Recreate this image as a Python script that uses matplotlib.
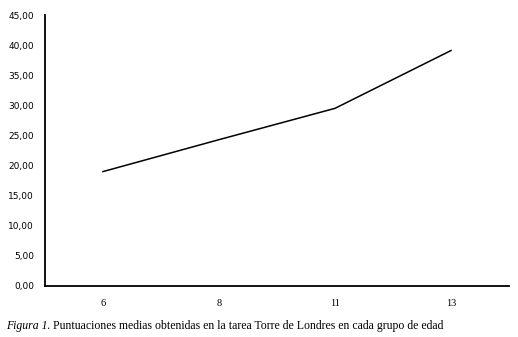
import matplotlib
matplotlib.use('Agg')
import matplotlib.pyplot as plt
import numpy as np

# --- Data ---
edades = ['6', '8', '11', '13']
puntuaciones = [19.0, 24.3, 29.5, 39.1]
y_ticks = [0, 5, 10, 15, 20, 25, 30, 35, 40, 45]
caption_italic = 'Figura 1.'
caption_rest = ' Puntuaciones medias obtenidas en la tarea Torre de Londres en cada grupo de edad'

fig = plt.figure(figsize=(5.18, 3.37), dpi=100)
ax = fig.add_axes([45 / 518, 1 - 286 / 337, 464 / 518, 271 / 337])

x = np.arange(len(edades))
ax.plot(x, puntuaciones, color='black', linewidth=1.1)

ax.set_xlim(-0.5, len(edades) - 0.5)
ax.set_ylim(0, 45)
ax.set_xticks(x)
ax.set_xticklabels(edades, family='Liberation Serif', fontsize=7.5)
ax.set_yticks(y_ticks)
ax.set_yticklabels([f'{v:.2f}'.replace('.', ',') for v in y_ticks],
                   family='DejaVu Sans', fontsize=6.5)
ax.tick_params(axis='x', length=0, pad=9)
ax.tick_params(axis='y', length=0, pad=8)

for side in ['top', 'right']:
    ax.spines[side].set_visible(False)
for side in ['left', 'bottom']:
    ax.spines[side].set_linewidth(1.3)

# caption, italic part then regular
t = fig.text(6 / 518, 1 - 329 / 337, caption_italic, family='Liberation Serif',
             style='italic', fontsize=8.5, va='baseline')
fig.canvas.draw()
bb = t.get_window_extent()
fig.text(bb.x1 / fig.bbox.width, 1 - 329 / 337, caption_rest, family='Liberation Serif',
         fontsize=8.5, va='baseline')

fig.savefig('out.png', dpi=100)
